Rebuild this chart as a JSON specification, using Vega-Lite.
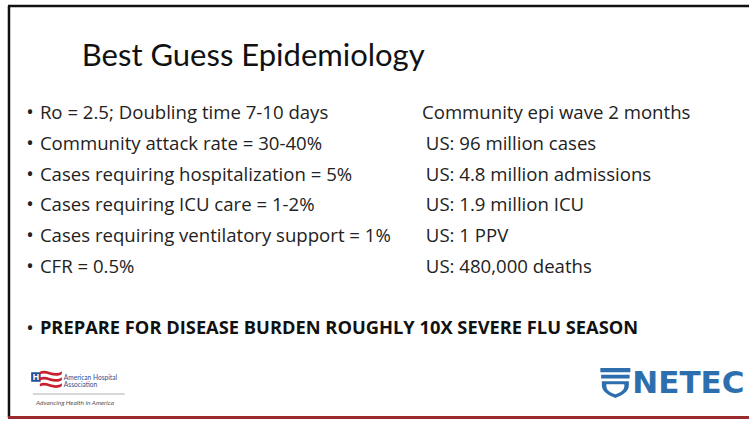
{
  "$schema": "https://vega.github.io/schema/vega-lite/v6.json",
  "width": 751,
  "height": 421,
  "autosize": {"type": "fit", "contains": "padding"},
  "padding": 0,
  "background": "white",
  "config": {"view": {"stroke": null}, "text": {"font": "Open Sans"}},
  "data": {
    "values": [
      {"col": 1, "line": 1, "text": "Ro = 2.5; Doubling time 7-10 days", "kind": "item"},
      {"col": 1, "line": 2, "text": "Community attack rate = 30-40%", "kind": "item"},
      {"col": 1, "line": 3, "text": "Cases requiring hospitalization = 5%", "kind": "item"},
      {"col": 1, "line": 4, "text": "Cases requiring ICU care = 1-2%", "kind": "item"},
      {"col": 1, "line": 5, "text": "Cases requiring ventilatory support = 1%", "kind": "item"},
      {"col": 1, "line": 6, "text": "CFR = 0.5%", "kind": "item"},
      {"col": 1.99, "line": 1, "text": "Community epi wave 2 months", "kind": "estimate"},
      {"col": 2, "line": 2, "text": "US: 96 million cases", "kind": "estimate"},
      {"col": 2, "line": 3, "text": "US: 4.8 million admissions", "kind": "estimate"},
      {"col": 2, "line": 4, "text": "US: 1.9 million ICU", "kind": "estimate"},
      {"col": 2, "line": 5, "text": "US: 1 PPV", "kind": "estimate"},
      {"col": 2, "line": 6, "text": "US: 480,000 deaths", "kind": "estimate"},
      {"col": 1, "line": 8, "text": "PREPARE FOR DISEASE BURDEN ROUGHLY 10X SEVERE FLU SEASON", "kind": "emphasis"}
    ]
  },
  "layer": [
    {
      "data": {"values": [{"part": "top"}]},
      "mark": {"type": "rule", "color": "#111111", "strokeWidth": 2.5},
      "encoding": {
        "x": {"datum": 0.91731, "type": "quantitative", "axis": null, "scale": {"type": "linear", "domain": [0.89664, 2.83721], "nice": false, "zero": false}},
        "x2": {"datum": 2.83721},
        "y": {"datum": -2.474, "type": "quantitative", "axis": null, "scale": {"type": "linear", "domain": [-2.6688, 11], "nice": false, "zero": false, "reverse": true}}
      }
    },
    {
      "data": {"values": [{"part": "left"}]},
      "mark": {"type": "rule", "color": "#111111", "strokeWidth": 2.5},
      "encoding": {
        "x": {"datum": 0.9199, "type": "quantitative", "axis": null, "scale": {"type": "linear", "domain": [0.89664, 2.83721], "nice": false, "zero": false}},
        "y": {"datum": -2.474, "type": "quantitative", "axis": null, "scale": {"type": "linear", "domain": [-2.6688, 11], "nice": false, "zero": false, "reverse": true}},
        "y2": {"datum": 10.8864}
      }
    },
    {
      "data": {"values": [{"part": "bottom"}]},
      "mark": {"type": "rule", "color": "#9b2a2c", "strokeWidth": 3},
      "encoding": {
        "x": {"datum": 0.91731, "type": "quantitative", "axis": null, "scale": {"type": "linear", "domain": [0.89664, 2.83721], "nice": false, "zero": false}},
        "x2": {"datum": 2.83721},
        "y": {"datum": 10.8864, "type": "quantitative", "axis": null, "scale": {"type": "linear", "domain": [-2.6688, 11], "nice": false, "zero": false, "reverse": true}}
      }
    },
    {
      "data": {"values": [{"text": "Best Guess Epidemiology"}]},
      "mark": {"type": "text", "align": "left", "baseline": "middle", "fontSize": 31, "font": "Lato", "color": "#111111"},
      "encoding": {
        "x": {"datum": 1.10853, "type": "quantitative", "axis": null, "scale": {"type": "linear", "domain": [0.89664, 2.83721], "nice": false, "zero": false}},
        "y": {"datum": -0.8182, "type": "quantitative", "axis": null, "scale": {"type": "linear", "domain": [-2.6688, 11], "nice": false, "zero": false, "reverse": true}},
        "text": {"field": "text"}
      }
    },
    {
      "transform": [{"filter": "datum.kind === 'item' || datum.kind === 'emphasis'"}],
      "mark": {"type": "text", "text": "•", "align": "center", "baseline": "middle", "fontSize": 20, "dx": -10, "color": "#222222"},
      "encoding": {
        "x": {"field": "col", "type": "quantitative", "axis": null, "scale": {"type": "linear", "domain": [0.89664, 2.83721], "nice": false, "zero": false}},
        "y": {"field": "line", "type": "quantitative", "axis": null, "scale": {"type": "linear", "domain": [-2.6688, 11], "nice": false, "zero": false, "reverse": true}}
      }
    },
    {
      "transform": [{"filter": "datum.kind === 'item' || datum.kind === 'estimate'"}],
      "mark": {"type": "text", "align": "left", "baseline": "middle", "fontSize": 18.6, "color": "#222222"},
      "encoding": {
        "x": {"field": "col", "type": "quantitative", "axis": null, "scale": {"type": "linear", "domain": [0.89664, 2.83721], "nice": false, "zero": false}},
        "y": {"field": "line", "type": "quantitative", "axis": null, "scale": {"type": "linear", "domain": [-2.6688, 11], "nice": false, "zero": false, "reverse": true}},
        "text": {"field": "text"}
      }
    },
    {
      "transform": [{"filter": "datum.kind === 'emphasis'"}],
      "mark": {"type": "text", "align": "left", "baseline": "middle", "fontSize": 18.3, "fontWeight": "bold", "color": "#111111"},
      "encoding": {
        "x": {"field": "col", "type": "quantitative", "axis": null, "scale": {"type": "linear", "domain": [0.89664, 2.83721], "nice": false, "zero": false}},
        "y": {"field": "line", "type": "quantitative", "axis": null, "scale": {"type": "linear", "domain": [-2.6688, 11], "nice": false, "zero": false, "reverse": true}},
        "text": {"field": "text"}
      }
    },
    {
      "data": {"values": [{"part": "aha-box"}]},
      "mark": {"type": "point", "shape": "square", "filled": true, "size": 90, "color": "#1f4e9a", "opacity": 1},
      "encoding": {
        "x": {"datum": 0.98966, "type": "quantitative", "axis": null, "scale": {"type": "linear", "domain": [0.89664, 2.83721], "nice": false, "zero": false}},
        "y": {"datum": 9.5715, "type": "quantitative", "axis": null, "scale": {"type": "linear", "domain": [-2.6688, 11], "nice": false, "zero": false, "reverse": true}}
      }
    },
    {
      "data": {"values": [{"part": "aha-h"}]},
      "mark": {"type": "text", "text": "H", "align": "center", "baseline": "middle", "fontSize": 9, "fontWeight": "bold", "color": "white"},
      "encoding": {
        "x": {"datum": 0.98966, "type": "quantitative", "axis": null, "scale": {"type": "linear", "domain": [0.89664, 2.83721], "nice": false, "zero": false}},
        "y": {"datum": 9.5715, "type": "quantitative", "axis": null, "scale": {"type": "linear", "domain": [-2.6688, 11], "nice": false, "zero": false, "reverse": true}}
      }
    },
    {
      "data": {"values": [{"part": "aha-stripes"}]},
      "mark": {"type": "point", "filled": true, "size": 484, "color": "#c8202f", "opacity": 1,
               "shape": "M-1,-0.75C-0.4,-1.1 0.3,-0.3 1,-0.8L1,-0.55C0.3,-0.05 -0.4,-0.85 -1,-0.5ZM-1,-0.2C-0.4,-0.55 0.3,0.25 1,-0.25L1,0C0.3,0.5 -0.4,-0.3 -1,0.05ZM-1,0.35C-0.4,0 0.3,0.8 1,0.3L1,0.55C0.3,1.05 -0.4,0.25 -1,0.6Z"},
      "encoding": {
        "x": {"datum": 1.02842, "type": "quantitative", "axis": null, "scale": {"type": "linear", "domain": [0.89664, 2.83721], "nice": false, "zero": false}},
        "y": {"datum": 9.6689, "type": "quantitative", "axis": null, "scale": {"type": "linear", "domain": [-2.6688, 11], "nice": false, "zero": false, "reverse": true}}
      }
    },
    {
      "data": {"values": [{"t": "American Hospital", "l": 9.5877}, {"t": "Association", "l": 9.8474}]},
      "mark": {"type": "text", "align": "left", "baseline": "middle", "fontSize": 6.6, "font": "Lato", "color": "#2a4d8f"},
      "encoding": {
        "x": {"datum": 1.06202, "type": "quantitative", "axis": null, "scale": {"type": "linear", "domain": [0.89664, 2.83721], "nice": false, "zero": false}},
        "y": {"field": "l", "type": "quantitative", "axis": null, "scale": {"type": "linear", "domain": [-2.6688, 11], "nice": false, "zero": false, "reverse": true}},
        "text": {"field": "t"}
      }
    },
    {
      "data": {"values": [{"part": "aha-rule"}]},
      "mark": {"type": "rule", "color": "#999999", "strokeWidth": 0.8},
      "encoding": {
        "x": {"datum": 0.98191, "type": "quantitative", "axis": null, "scale": {"type": "linear", "domain": [0.89664, 2.83721], "nice": false, "zero": false}},
        "x2": {"datum": 1.21964},
        "y": {"datum": 10.1234, "type": "quantitative", "axis": null, "scale": {"type": "linear", "domain": [-2.6688, 11], "nice": false, "zero": false, "reverse": true}}
      }
    },
    {
      "data": {"values": [{"t": "Advancing Health in America"}]},
      "mark": {"type": "text", "align": "left", "baseline": "middle", "fontSize": 6.5, "font": "Lato", "fontStyle": "italic", "color": "#555555"},
      "encoding": {
        "x": {"datum": 0.99, "type": "quantitative", "axis": null, "scale": {"type": "linear", "domain": [0.89664, 2.83721], "nice": false, "zero": false}},
        "y": {"datum": 10.3994, "type": "quantitative", "axis": null, "scale": {"type": "linear", "domain": [-2.6688, 11], "nice": false, "zero": false, "reverse": true}},
        "text": {"field": "t"}
      }
    },
    {
      "data": {"values": [{"part": "netec-icon"}]},
      "mark": {"type": "point", "filled": true, "size": 900, "color": "#2d6fae", "opacity": 1,
               "shape": "M-1,-1L1,-1L1,-0.72L-1,-0.72ZM-0.95,-0.55L0.95,-0.55L0.95,-0.3L-0.95,-0.3ZM-0.9,-0.12L0.9,-0.12L0.9,0.15C0.9,0.6 0.4,0.85 0,1C-0.4,0.85 -0.9,0.6 -0.9,0.15ZM-0.6,0.08L-0.6,0.2C-0.6,0.5 -0.3,0.65 0,0.75C0.3,0.65 0.6,0.5 0.6,0.2L0.6,0.08Z"},
      "encoding": {
        "x": {"datum": 2.49096, "type": "quantitative", "axis": null, "scale": {"type": "linear", "domain": [0.89664, 2.83721], "nice": false, "zero": false}},
        "y": {"datum": 9.7663, "type": "quantitative", "axis": null, "scale": {"type": "linear", "domain": [-2.6688, 11], "nice": false, "zero": false, "reverse": true}}
      }
    },
    {
      "data": {"values": [{"t": "NETEC"}]},
      "mark": {"type": "text", "align": "left", "baseline": "middle", "fontSize": 31, "fontWeight": "bold", "font": "DejaVu Sans", "color": "#2d6fae"},
      "encoding": {
        "x": {"datum": 2.53488, "type": "quantitative", "axis": null, "scale": {"type": "linear", "domain": [0.89664, 2.83721], "nice": false, "zero": false}},
        "y": {"datum": 9.7987, "type": "quantitative", "axis": null, "scale": {"type": "linear", "domain": [-2.6688, 11], "nice": false, "zero": false, "reverse": true}},
        "text": {"field": "t"}
      }
    }
  ]
}
